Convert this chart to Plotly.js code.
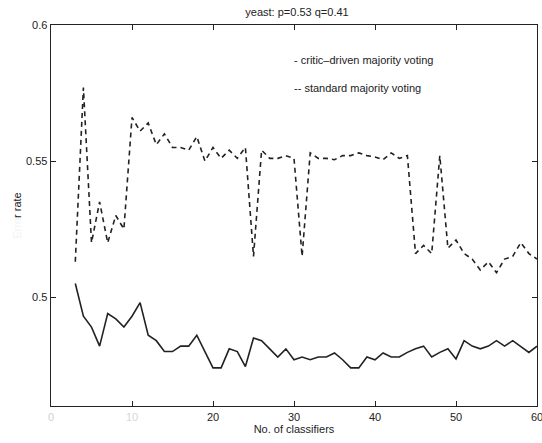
<!DOCTYPE html>
<html>
<head>
<meta charset="utf-8">
<script src="https://cdn.plot.ly/plotly-3.0.1.min.js"></script>
<style>html,body{margin:0;padding:0;background:#fff;}#chart{width:542px;height:443px;}</style>
</head>
<body>
<div id="chart"></div>
<script>
// Number of classifiers
const classifiers = [3,4,5,6,7,8,9,10,11,12,13,14,15,16,17,18,19,20,21,22,23,24,25,26,27,28,29,30,31,
  32,33,34,35,36,37,38,39,40,41,42,43,44,45,46,47,48,49,50,51,52,53,54,55,56,57,58,59,60];

// critic-driven majority voting (solid)
const criticDriven = [0.505,0.493,0.489,0.482,0.494,0.492,0.489,0.493,0.498,0.486,0.484,0.480,0.480,0.482,0.482,
  0.486,0.480,0.474,0.474,0.481,0.480,0.4745,0.485,0.484,0.481,0.478,0.481,0.477,0.478,0.477,0.478,0.478,
  0.4795,0.477,0.474,0.474,0.478,0.477,0.4795,0.478,0.478,0.4797,0.481,0.482,0.478,0.4797,0.481,0.4773,
  0.484,0.482,0.481,0.482,0.484,0.482,0.484,0.482,0.4797,0.482];

// standard majority voting (dashed)
const standardMV = [0.513,0.577,0.520,0.535,0.520,0.530,0.525,0.566,0.561,0.564,0.556,0.560,0.555,0.555,0.554,
  0.559,0.550,0.555,0.551,0.554,0.551,0.555,0.515,0.554,0.551,0.551,0.552,0.551,0.515,0.553,0.551,0.551,
  0.5505,0.552,0.552,0.553,0.552,0.5515,0.5505,0.553,0.551,0.552,0.516,0.519,0.516,0.552,0.518,0.521,
  0.516,0.514,0.510,0.513,0.509,0.514,0.515,0.520,0.516,0.514];

const xTickVals = [0,10,20,30,40,50,60];
const xTickText = ["<span style='color:#cfcfcf'>0</span>","<span style='color:#d6d6d6'>10</span>","20","30","40","50","60"];
const yTickVals = [0.5,0.55,0.6];
const yTickText = ["0.5","0.55","0.6"];

const titleText = "yeast: p=0.53 q=0.41";
const xTitle = "No. of classifiers";
const yTitle = "<span style='color:#f3f3f3'>Erro</span>r rate";
const legendCritic = "- critic\u2013driven majority voting";
const legendStandard = "-- standard majority voting";

const ink = "#222222";
const font = {family: "Liberation Sans, Arial, sans-serif", size: 11, color: ink};

const traces = [
  {x: classifiers, y: criticDriven, type: "scatter", mode: "lines", name: "critic-driven majority voting",
   line: {color: ink, width: 1.6}},
  {x: classifiers, y: standardMV, type: "scatter", mode: "lines", name: "standard majority voting",
   line: {color: ink, width: 1.6, dash: "5px,4px"}}
];

const axisCommon = {
  showgrid: false, zeroline: false, showline: true, linecolor: ink, linewidth: 1.4,
  mirror: "ticks", ticks: "inside", ticklen: 5, tickcolor: ink, tickwidth: 1,
  tickfont: font, ticklabeloverflow: "allow"
};

const layout = {
  width: 542, height: 443,
  margin: {l: 51, r: 5, t: 25, b: 37},
  paper_bgcolor: "#fff", plot_bgcolor: "#fff",
  showlegend: false,
  font: font,
  title: {text: titleText, font: {family: font.family, size: 11, color: ink}, x: 0.548, xanchor: "center", y: 0.972, yanchor: "middle"},
  xaxis: Object.assign({}, axisCommon, {range: [0, 60], tickmode: "array", tickvals: xTickVals, ticktext: xTickText,
    title: {text: xTitle, font: font, standoff: 3}}),
  yaxis: Object.assign({}, axisCommon, {range: [0.46, 0.6], tickmode: "array", tickvals: yTickVals, ticktext: yTickText,
    title: {text: yTitle, font: font, standoff: 2}}),
  annotations: [
    {xref: "paper", yref: "paper", x: 0.495, y: 0.908, xanchor: "left", yanchor: "middle", showarrow: false,
     text: legendCritic, font: {family: font.family, size: 11, color: ink}},
    {xref: "paper", yref: "paper", x: 0.495, y: 0.835, xanchor: "left", yanchor: "middle", showarrow: false,
     text: legendStandard, font: {family: font.family, size: 11, color: ink}}
  ]
};

Plotly.newPlot("chart", traces, layout, {displayModeBar: false, staticPlot: true});
</script>
</body>
</html>
